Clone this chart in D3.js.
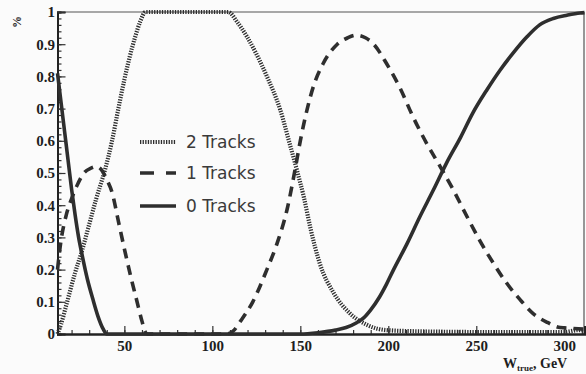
<!DOCTYPE html>
<html lang="en">
<head>
    <meta charset="UTF-8">
    <title>Track multiplicity vs W_true</title>
    <script src="https://d3js.org/d3.v7.min.js"></script>
    <style>
        body { margin: 0; background: #fbfbfb; }
        svg { display: block; }
        .tick-label { font-family: "Liberation Serif", serif; font-weight: bold; font-size: 15px; fill: #1e1e1e; }
        .legend-text { font-family: "DejaVu Sans", sans-serif; font-size: 17px; fill: #3a3a3a; }
        .curve { fill: none; stroke: #2e2e2e; }
    </style>
</head>
<body>
    <svg width="586" height="374"></svg>
    <script>
        // W_true (GeV) sample points and fractions
        const wZero = [12, 14, 16, 18, 20, 22, 24, 26, 29, 32, 35, 38, 40, 60, 100, 150, 160, 170, 176, 182, 186, 190, 195, 199, 203, 210.6, 218, 225.6, 233, 241, 248, 256, 263.6, 271, 278.8, 286, 293.8, 301.5, 309, 311.5];
        const zeroTracks = [0.81, 0.72, 0.63, 0.54, 0.45, 0.37, 0.30, 0.245, 0.17, 0.11, 0.055, 0.015, 0, 0, 0, 0, 0.004, 0.012, 0.02, 0.035, 0.05, 0.075, 0.115, 0.155, 0.2, 0.28, 0.365, 0.447, 0.53, 0.61, 0.686, 0.758, 0.82, 0.873, 0.923, 0.96, 0.98, 0.99, 0.997, 0.998];

        const wOne = [12, 14, 17, 20, 23, 27, 31, 34, 37, 40, 43, 46.8, 50.6, 54, 57, 60, 62, 63, 108, 112, 116, 123, 131, 136.7, 142.4, 147, 150, 153.8, 157.5, 163, 171, 177, 182, 187, 191.7, 199, 207, 214, 222, 229.5, 237, 244.7, 252, 259.7, 267, 275, 282, 290, 297.7, 305, 311.5];
        const oneTrack = [0.2, 0.29, 0.37, 0.42, 0.46, 0.50, 0.515, 0.52, 0.51, 0.48, 0.44, 0.345, 0.25, 0.17, 0.105, 0.04, 0.005, 0, 0, 0.01, 0.04, 0.1, 0.2, 0.28, 0.385, 0.51, 0.6, 0.696, 0.77, 0.84, 0.90, 0.92, 0.928, 0.92, 0.90, 0.84, 0.76, 0.675, 0.59, 0.52, 0.447, 0.365, 0.29, 0.22, 0.16, 0.106, 0.065, 0.037, 0.02, 0.017, 0.015];

        const wTwo = [12, 14, 17, 22, 26, 29.5, 34, 39, 43, 46.6, 50, 53, 56, 59, 62, 109, 114, 119.7, 125, 131, 138.6, 144, 148, 152, 155.7, 161, 169, 178, 188, 199, 220, 260, 300, 308, 311.5];
        const twoTracks = [0, 0.03, 0.09, 0.19, 0.26, 0.33, 0.42, 0.51, 0.6, 0.70, 0.79, 0.86, 0.92, 0.97, 1.0, 1.0, 0.97, 0.923, 0.87, 0.80, 0.696, 0.59, 0.51, 0.425, 0.33, 0.22, 0.127, 0.065, 0.028, 0.012, 0.008, 0.006, 0.006, 0.012, 0.012];

        const xMajor = [50, 100, 150, 200, 250, 300];
        const xMinor = d3.range(20, 311, 10);
        const yMajor = [0, 0.1, 0.2, 0.3, 0.4, 0.5, 0.6, 0.7, 0.8, 0.9, 1];
        const yLabels = ["0", "0.1", "0.2", "0.3", "0.4", "0.5", "0.6", "0.7", "0.8", "0.9", "1"];
        const yMinor = d3.range(0, 1.001, 0.02);

        const legendNames = ["2 Tracks", "1 Tracks", "0 Tracks"];

        const svg = d3.select("svg");
        const x = d3.scaleLinear().domain([12, 311.5]).range([57.5, 584.5]);
        const y = d3.scaleLinear().domain([0, 1]).range([334, 12]);

        // frame (top and right are thin)
        svg.append("line").attr("x1", x(12)).attr("x2", 584).attr("y1", y(1)).attr("y2", y(1))
            .attr("stroke", "#555").attr("stroke-width", 1.2);
        svg.append("line").attr("x1", 584).attr("x2", 584).attr("y1", y(1)).attr("y2", y(0))
            .attr("stroke", "#555").attr("stroke-width", 1.2);

        // minor ticks
        const gyMinor = svg.append("g").attr("transform", `translate(${x(12)},0)`)
            .call(d3.axisLeft(y).tickValues(yMinor).tickSize(-4).tickFormat(""));
        const gxMinor = svg.append("g").attr("transform", `translate(0,${y(0)})`)
            .call(d3.axisBottom(x).tickValues(xMinor).tickSize(-4).tickFormat(""));

        // major ticks with labels
        const gy = svg.append("g").attr("transform", `translate(${x(12)},0)`)
            .call(d3.axisLeft(y).tickValues(yMajor).tickSize(-8).tickPadding(2.5)
                .tickFormat((d, i) => yLabels[i]));
        const gx = svg.append("g").attr("transform", `translate(0,${y(0)})`)
            .call(d3.axisBottom(x).tickValues(xMajor).tickSize(-8).tickPadding(6)
                .tickFormat(d3.format("d")));

        [gyMinor, gxMinor, gy, gx].forEach(g => {
            g.select(".domain").attr("stroke", "#222").attr("stroke-width", 2);
            g.selectAll(".tick line").attr("stroke", "#333").attr("stroke-width", 1.2);
        });
        gy.selectAll("text").attr("class", "tick-label").attr("font-family", null).attr("font-size", null);
        gx.selectAll("text").attr("class", "tick-label").attr("font-family", null).attr("font-size", null);

        // axis titles
        svg.append("text").attr("class", "tick-label")
            .attr("transform", "translate(17,22) rotate(-90)")
            .attr("text-anchor", "middle").attr("dy", "0.35em")
            .style("font-size", "12px").text("%");
        const xt = svg.append("text").attr("class", "tick-label")
            .attr("x", 503).attr("y", 368).style("font-size", "14px");
        xt.append("tspan").text("W");
        xt.append("tspan").attr("dy", 3).style("font-size", "9px").text("true");
        xt.append("tspan").attr("dy", -3).text(", GeV");

        const line = d3.line().x(d => x(d[0])).y(d => y(d[1])).curve(d3.curveMonotoneX);

        const series = [
            { w: wTwo, v: twoTracks, dash: "1.3,1.3", width: 4.2 },
            { w: wOne, v: oneTrack, dash: "10,7", width: 3.6 },
            { w: wZero, v: zeroTracks, dash: null, width: 3.6 }
        ];

        series.forEach(s => {
            svg.append("path").attr("class", "curve")
                .attr("d", line(d3.zip(s.w, s.v)))
                .attr("stroke-width", s.width)
                .attr("stroke-dasharray", s.dash);
        });

        // legend
        const legendDash = ["1.3,1.3", "14,12", null];
        const legendY = [142, 173, 206];
        legendNames.forEach((name, i) => {
            svg.append("line").attr("x1", 140).attr("x2", 176)
                .attr("y1", legendY[i]).attr("y2", legendY[i])
                .attr("stroke", "#2e2e2e").attr("stroke-width", series[i].width)
                .attr("stroke-dasharray", legendDash[i]);
            svg.append("text").attr("class", "legend-text")
                .attr("x", 186).attr("y", legendY[i] + 5.5).text(name);
        });
    </script>
</body>
</html>
